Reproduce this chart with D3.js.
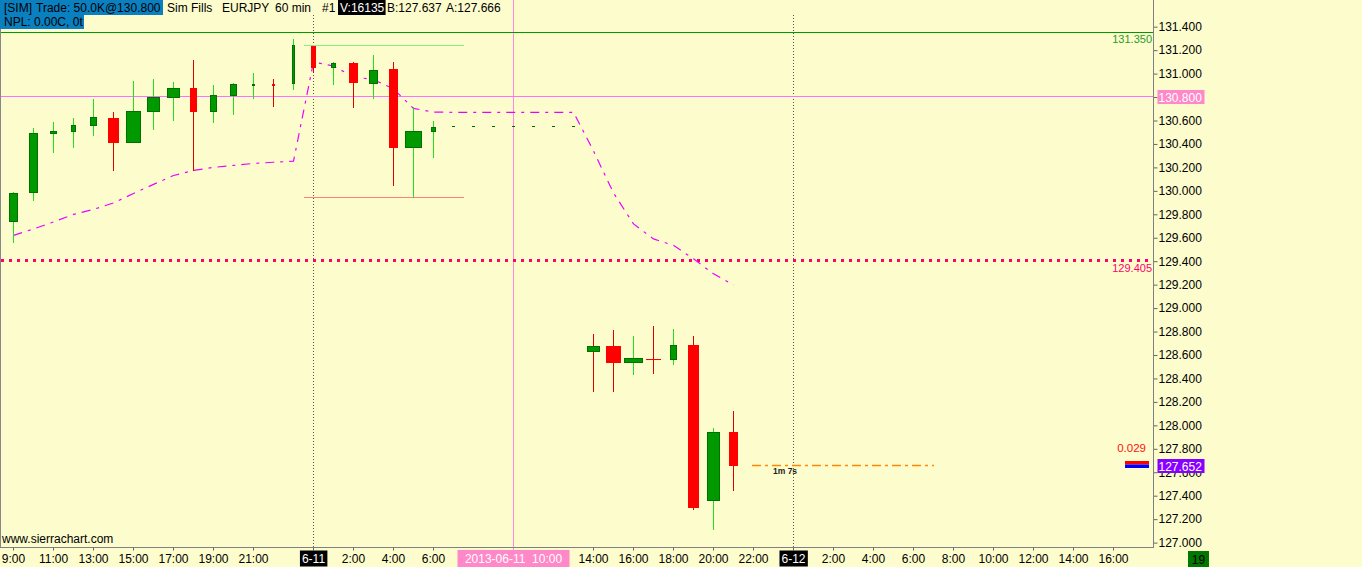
<!DOCTYPE html>
<html><head><meta charset="utf-8">
<script src="https://cdn.jsdelivr.net/npm/d3@7"></script>
<style>
html,body{margin:0;padding:0;background:#fcfccd;overflow:hidden}
svg{display:block;font-family:"Liberation Sans",Arial,sans-serif}
</style></head><body>
<svg id="c" width="1362" height="567"></svg>
<script>
// ---------- data ----------
const barTimes = [
 "2013-06-10T09:00","2013-06-10T10:00","2013-06-10T11:00","2013-06-10T12:00","2013-06-10T13:00",
 "2013-06-10T14:00","2013-06-10T15:00","2013-06-10T16:00","2013-06-10T17:00","2013-06-10T18:00",
 "2013-06-10T19:00","2013-06-10T20:00","2013-06-10T21:00","2013-06-10T22:00","2013-06-10T23:00",
 "2013-06-11T00:00","2013-06-11T01:00","2013-06-11T02:00","2013-06-11T03:00","2013-06-11T04:00",
 "2013-06-11T05:00","2013-06-11T06:00",
 "2013-06-11T14:00","2013-06-11T15:00","2013-06-11T16:00","2013-06-11T17:00","2013-06-11T18:00",
 "2013-06-11T19:00","2013-06-11T20:00","2013-06-11T21:00"];
const opens  = [129.738,129.980,130.488,130.505,130.556,130.622,130.411,130.675,130.795,130.877,130.675,130.812,130.906,130.912,130.914,
                131.235,131.050,131.091,130.914,131.039,130.368,130.505,
                128.629,128.678,128.536,128.567,128.561,128.686,127.359,127.945];
const highs  = [129.988,130.536,130.588,130.622,130.784,130.673,130.937,130.954,130.929,131.116,130.903,130.920,131.008,130.954,131.295,
                131.235,131.099,131.099,131.159,131.099,130.715,130.596,
                128.780,128.814,128.763,128.848,128.823,128.763,127.979,128.124];
const lows   = [129.553,129.917,130.326,130.368,130.468,130.172,130.411,130.522,130.599,130.172,130.582,130.650,130.784,130.718,130.863,
                131.003,130.906,130.709,130.784,130.045,129.937,130.283,
                128.288,128.288,128.431,128.442,128.516,127.280,127.109,127.436];
const closes = [129.980,130.491,130.511,130.559,130.628,130.411,130.681,130.801,130.875,130.675,130.818,130.912,130.914,130.897,131.244,
                131.050,131.091,130.923,131.028,130.368,130.511,130.545,
                128.678,128.536,128.576,128.561,128.686,127.299,127.945,127.652];
const volumes = [450,450,350,250,350,550,750,650,650,350,350,350,150,150,150,
                 250,250,450,450,450,850,250,
                 650,750,950,750,350,550,650,450];
const vwapTimes = [
 "2013-06-10T09:00","2013-06-10T10:00","2013-06-10T11:00","2013-06-10T12:00","2013-06-10T13:00",
 "2013-06-10T14:00","2013-06-10T15:00","2013-06-10T16:00","2013-06-10T17:00","2013-06-10T18:00",
 "2013-06-10T19:00","2013-06-10T20:00","2013-06-10T21:00","2013-06-10T22:00","2013-06-10T23:00",
 "2013-06-11T00:00","2013-06-11T01:00","2013-06-11T02:00","2013-06-11T03:00","2013-06-11T04:00",
 "2013-06-11T05:00","2013-06-11T06:00","2013-06-11T07:00","2013-06-11T08:00","2013-06-11T09:00",
 "2013-06-11T10:00","2013-06-11T11:00","2013-06-11T12:00","2013-06-11T13:00","2013-06-11T14:00",
 "2013-06-11T15:00","2013-06-11T16:00","2013-06-11T17:00","2013-06-11T18:00","2013-06-11T19:00",
 "2013-06-11T20:00","2013-06-11T21:00"];
const vwapValues = [129.620,129.675,129.735,129.799,129.842,129.897,129.978,130.055,130.131,130.174,130.200,130.217,130.234,130.244,130.253,
                    131.099,131.065,130.971,130.950,130.869,130.703,130.672,
                    130.670,130.670,130.670,130.670,130.670,130.670,130.670,
                    130.340,129.982,129.718,129.590,129.535,129.420,129.292,129.198];
const yTickValues = [131.4,131.2,131.0,130.8,130.6,130.4,130.2,130.0,129.8,129.6,129.4,129.2,129.0,128.8,128.6,128.4,128.2,128.0,127.8,127.6,127.4,127.2,127.0];
const xTickTimes = [
 "2013-06-10T09:00","2013-06-10T11:00","2013-06-10T13:00","2013-06-10T15:00","2013-06-10T17:00","2013-06-10T19:00","2013-06-10T21:00",
 "2013-06-11T00:00","2013-06-11T02:00","2013-06-11T04:00","2013-06-11T06:00",
 "2013-06-11T14:00","2013-06-11T16:00","2013-06-11T18:00","2013-06-11T20:00","2013-06-11T22:00",
 "2013-06-12T00:00","2013-06-12T02:00","2013-06-12T04:00","2013-06-12T06:00","2013-06-12T08:00","2013-06-12T10:00",
 "2013-06-12T12:00","2013-06-12T14:00","2013-06-12T16:00"];
const stopLevel = 131.350;
const entryPrice = 130.800;
const targetLevel = 129.405;
const bidPrice = 127.637, askPrice = 127.666;
const spreadText = "0.029";
const cursorTime = "2013-06-11T10:00";
const cursorLabel = "2013-06-11  10:00";
const barCounter = "19";
const headerSegments = [
  {text:"[SIM]", x:4}, {text:"Trade: 50.0K@130.800", x:36}, {text:"Sim Fills", x:167},
  {text:"EURJPY", x:222}, {text:"60 min", x:275}, {text:"#1", x:322},
  {text:"V:16135", x:340, inv:true}, {text:"B:127.637", x:387}, {text:"A:127.666", x:446}];

// ---------- setup ----------
const parse = d3.utcParse("%Y-%m-%dT%H:%M");
const W = 1362, H = 567, axisX = 1153, axisY = 547;
const svg = d3.select("#c");
svg.append("rect").attr("width", W).attr("height", H).attr("fill", "#fcfccd");

const x = d3.scaleUtc()
  .domain([parse("2013-06-10T09:00"), parse("2013-06-12T18:00")])
  .range([13, axisX]);
const y = d3.scaleLinear().domain([127.0, 131.4]).range([542.6, 26.7]);
const wScale = d3.scaleLinear().domain([0, 1000]).range([0, 20]);

const bars = barTimes.map((t, i) => ({
  t: parse(t), o: opens[i], h: highs[i], l: lows[i], c: closes[i], v: volumes[i],
  pc: i > 0 ? closes[i-1] : opens[i]
}));
const vwap = vwapTimes.map((t, i) => ({t: parse(t), v: vwapValues[i]}));
const hour = 3600e3;

const plot = svg.append("g");
const cx = d => Math.round(x(d));
const hy = v => Math.round(y(v)) - 0.5;

// day boundary dotted lines
const dayStarts = xTickTimes.map(parse).filter(d => d.getUTCHours() === 0);
plot.selectAll(".day").data(dayStarts).join("line")
  .attr("x1", d => cx(d) + 0.5).attr("x2", d => cx(d) + 0.5)
  .attr("y1", 15).attr("y2", axisY)
  .attr("stroke", "#555").attr("stroke-dasharray", "1,2");

// cursor line
const ct = parse(cursorTime);
plot.append("line").attr("x1", cx(ct) + 0.5).attr("x2", cx(ct) + 0.5)
  .attr("y1", 0).attr("y2", axisY + 3).attr("stroke", "#ff88dd");

// horizontal reference lines
plot.append("line").attr("x1", 0).attr("x2", axisX)
  .attr("y1", hy(stopLevel)).attr("y2", hy(stopLevel))
  .attr("stroke", "#009900").attr("shape-rendering", "crispEdges");
plot.append("line").attr("x1", 0).attr("x2", axisX)
  .attr("y1", hy(entryPrice)).attr("y2", hy(entryPrice))
  .attr("stroke", "#ff70ff").attr("shape-rendering", "crispEdges");
plot.append("line").attr("x1", 1).attr("x2", axisX)
  .attr("y1", Math.round(y(targetLevel)) - 0.5).attr("y2", Math.round(y(targetLevel)) - 0.5)
  .attr("stroke", "#ff0070").attr("stroke-width", 3).attr("stroke-dasharray", "3,5");

// session high/low lines (6-11 session before the gap)
const sess = bars.filter(b => b.t >= parse("2013-06-11T00:00") && b.t <= parse("2013-06-11T06:00"));
const sHigh = d3.max(sess, b => b.h), sLow = d3.min(sess, b => b.l);
const sx1 = x(+sess[0].t - 0.45 * hour), sx2 = x(+sess[sess.length-1].t + 1.55 * hour);
plot.append("line").attr("x1", sx1).attr("x2", sx2)
  .attr("y1", hy(sHigh)).attr("y2", hy(sHigh)).attr("stroke", "#88ee88").attr("shape-rendering", "crispEdges");
plot.append("line").attr("x1", sx1).attr("x2", sx2)
  .attr("y1", hy(sLow)).attr("y2", hy(sLow)).attr("stroke", "#ff8080").attr("shape-rendering", "crispEdges");

// last close before the gap, carried forward
const lastPre = sess[sess.length-1];
plot.append("line").attr("x1", x(+lastPre.t + 0.95 * hour)).attr("x2", x(parse("2013-06-11T13:00")) + 2)
  .attr("y1", hy(lastPre.c)).attr("y2", hy(lastPre.c))
  .attr("stroke", "#006600").attr("stroke-dasharray", "3,17");

// VWAP
plot.append("path").datum(vwap)
  .attr("d", d3.line().x(d => cx(d.t) + 0.5).y(d => y(d.v)))
  .attr("fill", "none").attr("stroke", "#ee00ff").attr("stroke-width", 1.2)
  .attr("stroke-dasharray", "9,6,3,6");

// candles
const cg = plot.append("g");
const bar = cg.selectAll("g").data(bars).join("g");
bar.append("rect")
  .attr("x", d => cx(d.t)).attr("width", 1)
  .attr("y", d => Math.round(y(d.h))).attr("height", d => Math.max(1, Math.round(y(d.l)) - Math.round(y(d.h))))
  .attr("fill", d => d.c >= d.pc ? "#22dd22" : "#e00000");
bar.each(function(d) {
  const up = d.c >= d.o;
  const top = Math.round(y(Math.max(d.o, d.c)));
  const bot = Math.max(top + (up ? 2 : 1), Math.round(y(Math.min(d.o, d.c))));
  const w = wScale(d.v);
  const left = cx(d.t) + 0.5 - w / 2;
  d3.select(this).append("rect")
    .attr("x", left + (up ? 0.5 : 0)).attr("width", w - (up ? 1 : 0))
    .attr("y", top + (up ? 0.5 : 0)).attr("height", bot - top - (up ? 1 : 0))
    .attr("fill", up ? "#009900" : "#ff0000")
    .attr("stroke", up ? "#007000" : "none");
});

// last price line
const lastBar = bars[bars.length-1];
plot.append("line").attr("x1", x(+lastBar.t + hour) - 1).attr("x2", x(+lastBar.t + 10 * hour) + 1)
  .attr("y1", hy(lastBar.c)).attr("y2", hy(lastBar.c))
  .attr("stroke", "#ff8800").attr("stroke-width", 1.3).attr("stroke-dasharray", "9,4,3,4");
plot.append("text").attr("x", x(+lastBar.t + hour) + 20).attr("y", Math.round(y(lastBar.c)) + 7.5)
  .attr("font-size", 8.5).attr("font-weight", "bold").attr("fill", "#222").text("1m 7s");

// level labels near axis
plot.append("text").attr("x", axisX - 1).attr("y", y(stopLevel) + 10.5)
  .attr("text-anchor", "end").attr("font-size", 11).attr("fill", "#2a9a2a").text(stopLevel.toFixed(3));
plot.append("text").attr("x", axisX - 1).attr("y", y(targetLevel) + 11)
  .attr("text-anchor", "end").attr("font-size", 11).attr("fill", "#ff0070").text(targetLevel.toFixed(3));
plot.append("text").attr("x", axisX - 7).attr("y", y(askPrice) - 13)
  .attr("text-anchor", "end").attr("font-size", 11.5).attr("fill", "#ff1010").text(spreadText);
const baY = Math.round(y(askPrice));
plot.append("rect").attr("x", axisX - 28).attr("y", baY - 4).attr("width", 24).attr("height", 3.5).attr("fill", "#ff0000");
plot.append("rect").attr("x", axisX - 28).attr("y", baY - 0.5).attr("width", 24).attr("height", 3.5).attr("fill", "#0000ff");

// left border line
svg.append("line").attr("x1", 0.5).attr("x2", 0.5).attr("y1", 0).attr("y2", axisY).attr("stroke", "#888");

// ---------- axes ----------
const yAxis = d3.axisRight(y).tickValues(yTickValues).tickFormat(d3.format(".3f")).tickSize(4).tickPadding(1);
const yg = svg.append("g").attr("transform", `translate(${axisX + 0.5},0)`).call(yAxis);
yg.select(".domain").remove();
yg.selectAll("line").attr("stroke", "#666");
yg.selectAll("text").attr("font-size", 12).attr("font-family", "Liberation Sans, Arial, sans-serif").attr("fill", "#000");

const xFmt = d => d.getUTCHours() === 0 ? d3.utcFormat("%-m-%d")(d) : d3.utcFormat("%-H:%M")(d);
const xAxis = d3.axisBottom(x).tickValues(xTickTimes.map(parse)).tickFormat(xFmt).tickSize(3).tickPadding(4);
const xg = svg.append("g").attr("transform", `translate(0,${axisY + 0.5})`).call(xAxis);
xg.select(".domain").remove();
xg.selectAll("line").attr("stroke", "#666");
xg.selectAll("text").attr("font-size", 12).attr("font-family", "Liberation Sans, Arial, sans-serif").attr("fill", "#000");
xg.selectAll(".tick").filter(d => d.getUTCHours() === 0).each(function() {
  const t = d3.select(this).select("text").attr("fill", "#fff");
  const bb = t.node().getBBox();
  d3.select(this).insert("rect", "text").attr("x", bb.x - 2).attr("y", 3).attr("width", bb.width + 4).attr("height", 16).attr("fill", "#000");
});

// axis lines
svg.append("line").attr("x1", axisX + 0.5).attr("x2", axisX + 0.5).attr("y1", 0).attr("y2", axisY + 1).attr("stroke", "#808080");
svg.append("line").attr("x1", 0).attr("x2", axisX + 1).attr("y1", axisY + 0.5).attr("y2", axisY + 0.5).attr("stroke", "#808080");

// cursor time label
const cl = svg.append("g");
cl.append("rect").attr("x", cx(ct) + 0.5 - 56).attr("y", axisY + 3).attr("width", 112).attr("height", 17).attr("fill", "#ff88c8");
cl.append("text").attr("x", cx(ct) + 0.5).attr("y", axisY + 15.5).attr("text-anchor", "middle")
  .attr("font-size", 12).attr("fill", "#fff").style("white-space", "pre").text(cursorLabel);

// axis value boxes
function axisBox(v, fill, col) {
  const yy = Math.round(y(v));
  const g = svg.append("g");
  g.append("rect").attr("x", axisX + 4.5).attr("y", yy - 7).attr("width", 47).attr("height", 14).attr("fill", fill);
  g.append("text").attr("x", axisX + 5.5).attr("y", yy + 4.5).attr("font-size", 12).attr("fill", col).text(v.toFixed(3));
}
axisBox(entryPrice, "#ff88c8", "#fff");
axisBox(lastBar.c, "#8800ff", "#fff");

// bar counter box
svg.append("rect").attr("x", 1188).attr("y", 551).attr("width", 21).attr("height", 16).attr("fill", "#007700");
svg.append("text").attr("x", 1198.5).attr("y", 563.5).attr("text-anchor", "middle").attr("font-size", 12).attr("fill", "#000").text(barCounter);

// watermark
svg.append("text").attr("x", 2).attr("y", 543).attr("font-size", 12).attr("fill", "#000").text("www.sierrachart.com");

// ---------- header ----------
const hg = svg.append("g").attr("font-size", 12);
hg.append("rect").attr("x", 0).attr("y", 0).attr("width", 163).attr("height", 15).attr("fill", "#0a80c0");
hg.append("rect").attr("x", 0).attr("y", 15).attr("width", 84).attr("height", 14).attr("fill", "#0a80c0");
headerSegments.forEach(s => {
  if (s.inv) {
    const t = hg.append("text").attr("x", s.x).attr("y", 12).attr("fill", "#fff").text(s.text);
    const bb = t.node().getBBox();
    hg.insert("rect", "text").attr("x", s.x - 2).attr("y", 0).attr("width", bb.width + 3).attr("height", 15).attr("fill", "#000");
  } else {
    hg.append("text").attr("x", s.x).attr("y", 12).attr("fill", "#000").text(s.text);
  }
});
hg.append("text").attr("x", 4).attr("y", 26).attr("fill", "#000").text("NPL: 0.00C, 0t");
</script>
</body></html>
